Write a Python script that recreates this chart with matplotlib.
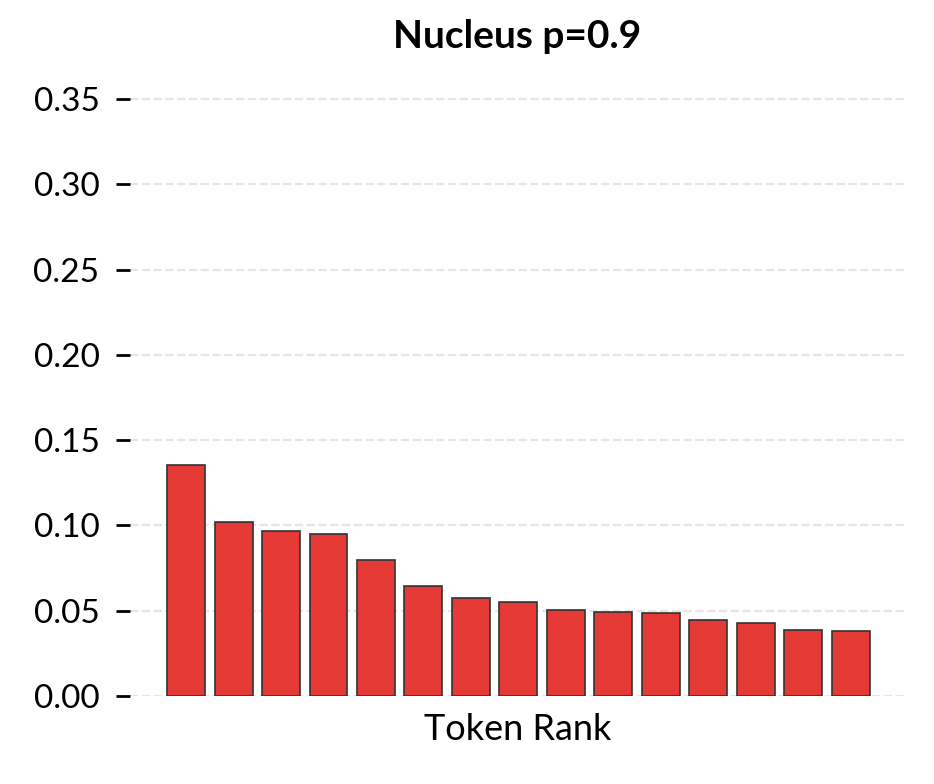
import matplotlib
matplotlib.use("Agg")
import matplotlib.pyplot as plt
import numpy as np

ranks = list(range(1, 16))
probs = [0.1354, 0.102, 0.0967, 0.095, 0.080, 0.0645, 0.0574, 0.055, 0.0504, 0.049, 0.0487, 0.0445, 0.0428, 0.0387, 0.0381]
yticks = [0.00, 0.05, 0.10, 0.15, 0.20, 0.25, 0.30, 0.35]

plt.rcParams['font.family'] = ['Lato', 'DejaVu Sans']
fig = plt.figure(figsize=(4.67, 3.92), dpi=200)
ax = fig.add_axes([130/934, 1-696/784, 775/934, 620/784])
x = np.arange(len(ranks))
ax.bar(x, probs, width=0.8, color='#e53935', edgecolor='#333333', linewidth=0.6, zorder=3)
ax.set_xlim(-1.18, len(ranks) - 1 + 1.14)
ax.set_ylim(0, 0.3635)
ax.set_yticks(yticks)
ax.set_yticklabels([f"{v:.2f}" for v in yticks], fontsize=12)
ax.set_xticks([])
ax.yaxis.grid(True, linestyle='--', color='#e6e6e6', linewidth=0.8, zorder=0)
for s in ax.spines.values():
    s.set_visible(False)
ax.tick_params(axis='y', length=5, width=1, pad=6)
ax.set_xlabel('Token Rank', fontsize=13, labelpad=6)
ax.set_title('Nucleus p=0.9', fontsize=14, fontweight='bold', pad=10)
fig.savefig('out.png', dpi=200)
